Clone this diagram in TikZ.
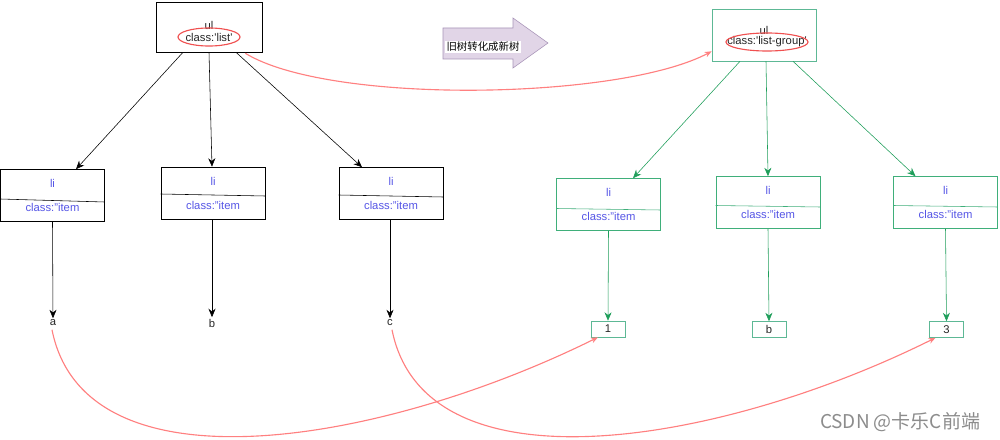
\documentclass[tikz,border=0pt]{standalone}
\usepackage{fontspec}
\setmainfont{Liberation Sans}
\newfontfamily\cjk{Noto Sans CJK SC}
\usetikzlibrary{arrows.meta,calc,shapes.geometric}

\definecolor{itemblue}{HTML}{5555E6}
\definecolor{boxgreen}{HTML}{3FAF7A}
\definecolor{ulgreen}{HTML}{5DB895}
\definecolor{arrowgreen}{HTML}{1E9E5A}
\definecolor{markred}{HTML}{F05050}
\definecolor{linkred}{HTML}{FF8080}
\definecolor{arrowfill}{HTML}{E1D5E7}
\definecolor{arrowline}{HTML}{A894B8}

\begin{document}
\begin{tikzpicture}[x=0.025cm,y=-0.025cm,
    font=\fontsize{8}{10}\selectfont,
    >={Stealth[length=6pt,width=5pt]},
    ulbox/.style={draw,minimum width=2.65cm,minimum height=1.25cm,inner sep=0pt},
    libox/.style={draw,minimum width=2.6cm,minimum height=1.3cm,inner sep=0pt},
    leafbox/.style={draw=ulgreen,minimum width=0.85cm,minimum height=0.4cm,inner sep=0pt},
    itemtext/.style={text=itemblue,inner sep=1pt},
    plaintext/.style={text=black!85,inner sep=1pt},
    classmark/.style={draw=markred,thick,ellipse,inner sep=0pt},
    link/.style={draw=linkred,thick,-{Stealth[length=5pt,width=4pt]}}]
    \useasboundingbox[fill=white] (0,0) rectangle (1000,440);

    % old tree
    \node[ulbox] (ulL) at (209,27) {};
    \node[plaintext] (ulLt) at (209,25) {ul};
    \node[plaintext] (ulLc) at (209,37) {class:\textquotesingle list\textquotesingle};
    \node[classmark,minimum width=1.55cm,minimum height=0.45cm] (ulLm) at (209,37) {};

    \node[libox] (liL1) at (52.5,195.5) {};
    \node[libox] (liL2) at (213,193) {};
    \node[libox] (liL3) at (391,193.5) {};
    \draw ($(liL1.west)+(0,3.5)$) -- ($(liL1.east)+(0,6.5)$);
    \draw ($(liL2.west)+(0,1)$) -- ($(liL2.east)+(0,3)$);
    \draw ($(liL3.west)+(0,1.5)$) -- ($(liL3.east)+(0,3.5)$);
    \node[itemtext] (liL1t) at ($(liL1.center)+(0,-12)$) {li};
    \node[itemtext] (liL1c) at ($(liL1.center)+(0,12)$) {class:"item};
    \node[itemtext] (liL2t) at ($(liL2.center)+(0,-12)$) {li};
    \node[itemtext] (liL2c) at ($(liL2.center)+(0,12)$) {class:"item};
    \node[itemtext] (liL3t) at ($(liL3.center)+(0,-12)$) {li};
    \node[itemtext] (liL3c) at ($(liL3.center)+(0,12)$) {class:"item};

    \node[plaintext] (a) at (53,323) {a};
    \node[plaintext] (b) at (212,323) {b};
    \node[plaintext] (c) at (390,323) {c};

    \draw[->] ($(ulL.south)+(-26,0)$) -- ($(liL1.north)+(23.5,0)$);
    \draw[->] ($(ulL.south)+(0,0)$) -- ($(liL2.north)+(-1,0)$);
    \draw[->] ($(ulL.south)+(27,0)$) -- ($(liL3.north)+(-29,0)$);
    \draw[->] (liL1.south) -- (a.north);
    \draw[->] ($(liL2.south)+(-1,0)$) -- (b.north);
    \draw[->] ($(liL3.south)+(-1,0)$) -- (c.north);

    % transform arrow
    \draw[draw=arrowline,fill=arrowfill] (443,28) -- (513,28) -- (513,18) -- (548,43)
        -- (513,68) -- (513,59) -- (443,59) -- cycle;
    \node[fill=white,inner sep=1pt,font=\cjk\fontsize{7.4}{9}\selectfont] (trans) at (483,47) {旧树转化成新树};

    % new tree
    \node[ulbox,draw=ulgreen,minimum width=2.6cm,minimum height=1.3cm] (ulR) at (764,35) {};
    \node[plaintext] (ulRt) at (764,30) {ul};
    \node[plaintext] (ulRc) at (767,42) {class:\textquotesingle list-group\textquotesingle};
    \node[classmark,minimum width=2.05cm,minimum height=0.45cm] (ulRm) at (767,42) {};

    \node[libox,draw=boxgreen] (liR1) at (608.5,204.5) {};
    \node[libox,draw=boxgreen] (liR2) at (768,202.5) {};
    \node[libox,draw=boxgreen] (liR3) at (945.5,202.5) {};
    \draw[boxgreen] ($(liR1.west)+(0,4)$) -- ($(liR1.east)+(0,5.5)$);
    \draw[boxgreen] ($(liR2.west)+(0,3)$) -- ($(liR2.east)+(0,4.5)$);
    \draw[boxgreen] ($(liR3.west)+(0,3)$) -- ($(liR3.east)+(0,4.5)$);
    \node[itemtext] (liR1t) at ($(liR1.center)+(0,-12)$) {li};
    \node[itemtext] (liR1c) at ($(liR1.center)+(0,12)$) {class:"item};
    \node[itemtext] (liR2t) at ($(liR2.center)+(0,-12)$) {li};
    \node[itemtext] (liR2c) at ($(liR2.center)+(0,12)$) {class:"item};
    \node[itemtext] (liR3t) at ($(liR3.center)+(0,-12)$) {li};
    \node[itemtext] (liR3c) at ($(liR3.center)+(0,12)$) {class:"item};

    \node[leafbox] (n1) at (608,329) {};
    \node[leafbox] (nb) at (769,329.5) {};
    \node[leafbox] (n3) at (946.5,329.5) {};
    \node[plaintext] (n1t) at (n1.center) {1};
    \node[plaintext] (nbt) at (nb.center) {b};
    \node[plaintext] (n3t) at (n3.center) {3};

    \draw[->,arrowgreen] ($(ulR.south)+(-24,0)$) -- ($(liR1.north)+(24.5,0)$);
    \draw[->,arrowgreen] ($(ulR.south)+(2,0)$) -- (liR2.north);
    \draw[->,arrowgreen] ($(ulR.south)+(29,0)$) -- ($(liR3.north)+(-30,0)$);
    \draw[->,arrowgreen] (liR1.south) -- (n1.north);
    \draw[->,arrowgreen] (liR2.south) -- (nb.north);
    \draw[->,arrowgreen] (liR3.south) -- (n3.north);

    % links between the trees
    \draw[link] ($(ulL.south east)+(-17,1)$) .. controls (330,105) and (620,100) .. ($(ulR.south west)+(0,-10)$);
    \draw[link] ($(a.south)+(-1,2)$) .. controls (85,495) and (380,445) .. ($(n1.south)+(-10,0)$);
    \draw[link] ($(c.south)+(2,2)$) .. controls (425,495) and (720,445) .. ($(n3.south)+(-11,0)$);

    \node[text=black!45,font=\cjk\fontsize{13.5}{15}\selectfont] (wmark) at (900,422) {CSDN @卡乐C前端};
\end{tikzpicture}
\end{document}
